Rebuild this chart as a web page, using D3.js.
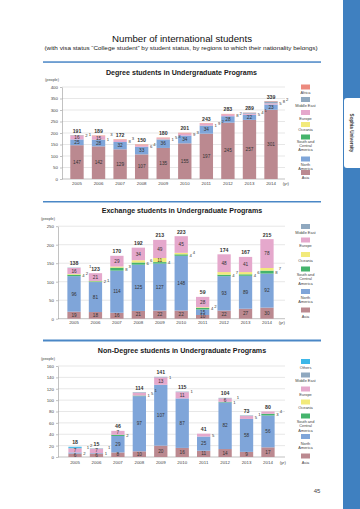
<!DOCTYPE html>
<html><head><meta charset="utf-8">
<script src="https://cdn.jsdelivr.net/npm/d3@7"></script>
<style>
body{margin:0;background:#fff;}
svg{display:block;font-family:"Liberation Sans",Arial,sans-serif;}
</style></head>
<body>
<svg id="c" width="360" height="509"></svg>
<script>
const years = ["2005","2006","2007","2008","2009","2010","2011","2012","2013","2014"];

// Degree students
const degAsia   = [147,142,129,107,135,155,197,245,257,301];
const degNA     = [25,28,32,33,36,34,34,28,22,23];
const degSCA    = [0,1,0,0,1,0,1,0,0,0];
const degOce    = [0,0,0,0,0,0,0,0,0,0];
const degEur    = [16,15,8,6,5,9,9,8,5,5];
const degME     = [2,0,0,0,0,0,0,0,4,8];
const degAfr    = [1,3,3,4,3,3,2,2,1,2];
const degTicks  = [0,50,100,150,200,250,300,350,400];

// Exchange students
const exAsia = [19,18,16,21,22,22,10,22,27,30];
const exNA   = [96,81,114,125,127,148,15,93,89,92];
const exSCA  = [4,2,8,6,4,4,4,4,4,8];
const exOce  = [2,1,3,6,11,4,2,7,6,7];
const exEur  = [16,21,29,34,49,45,28,48,41,78];
const exME   = [1,0,0,0,0,0,0,0,0,0];
const exTicks = [0,50,100,150,200,250];

// Non-degree students
const ndAsia = [6,6,8,10,20,16,11,14,9,17];
const ndNA   = [2,1,29,97,107,87,25,82,58,56];
const ndSCA  = [0,0,2,1,0,0,0,1,0,3];
const ndOce  = [0,0,0,0,0,0,0,0,0,0];
const ndEur  = [7,7,7,5,13,11,5,6,5,4];
const ndME   = [1,1,0,1,1,1,0,1,1,0];
const ndOth  = [2,0,0,0,0,0,0,0,0,0];
const ndTicks = [0,20,40,60,80,100,120,140,160];

const colors = {
  "Asia":"#bb8990","North America":"#7fa5d9","South and Central America":"#45b46c",
  "Oceania":"#f2ea7a","Europe":"#e5a8cc","Middle East":"#8fa8bf","Africa":"#ec8a7e","Others":"#3db7e8"
};

const svg = d3.select("#c");
const ink = "#333";

svg.append("rect").attr("x",343).attr("y",0).attr("width",17).attr("height",509).attr("fill","#3f80c0");
svg.append("path").attr("d","M360,98 L347,98 Q344,98 344,101 L344,165 Q344,168 347,168 L360,168 Z").attr("fill","#fff");
svg.append("text").attr("transform","translate(350,133) rotate(90)").attr("text-anchor","middle")
  .attr("font-size",4.6).attr("fill",ink).attr("font-weight","bold").text("Sophia University");

svg.append("text").attr("x",182).attr("y",42).attr("text-anchor","middle").attr("font-size",9)
  .attr("fill","#111").attr("textLength",140).attr("lengthAdjust","spacingAndGlyphs").text("Number of international students");
svg.append("text").attr("x",181).attr("y",49.5).attr("text-anchor","middle").attr("font-size",5)
  .attr("fill","#222").attr("textLength",273).attr("lengthAdjust","spacingAndGlyphs")
  .text("(with visa status \u201cCollege student\u201d by student status, by regions to which their nationality belongs)");

svg.append("text").attr("x",317).attr("y",493).attr("text-anchor","middle").attr("font-size",6).attr("fill","#444").text("45");

function drawChart(cfg){
  const g = svg.append("g");
  g.append("rect").attr("x",43).attr("y",cfg.lineY).attr("width",278).attr("height",cfg.lineH).attr("fill","#4a87c6");
  g.append("text").attr("x",cfg.titleX).attr("y",cfg.titleY).attr("text-anchor","middle").attr("font-size",8)
    .attr("font-weight","bold").attr("fill","#1a1a1a").attr("textLength",cfg.titleW).attr("lengthAdjust","spacingAndGlyphs").text(cfg.title);

  const x = d3.scaleBand().domain(years).range(cfg.xr).paddingInner(0.38).paddingOuter(0.19);
  const y = d3.scaleLinear().domain([0,cfg.max]).range(cfg.yr);

  g.append("g").selectAll("line").data(cfg.ticks.filter(t=>t>0)).join("line")
    .attr("x1",cfg.axisX).attr("x2",285).attr("y1",d=>y(d)).attr("y2",d=>y(d))
    .attr("stroke","#d6d6d6").attr("stroke-width",0.6);

  const ax = g.append("g").attr("transform",`translate(${cfg.axisX},0)`)
    .call(d3.axisLeft(y).tickValues(cfg.ticks).tickSizeInner(2).tickSizeOuter(0).tickPadding(2));
  ax.select(".domain").attr("stroke","#999").attr("stroke-width",0.6);
  ax.selectAll(".tick line").attr("stroke","#999").attr("stroke-width",0.6);
  ax.selectAll("text").attr("font-size",4.4).attr("fill","#444").attr("font-family","Liberation Sans, Arial, sans-serif");

  g.append("line").attr("x1",cfg.axisX).attr("x2",285).attr("y1",y(0)).attr("y2",y(0)).attr("stroke","#999").attr("stroke-width",0.6);

  g.append("text").attr("x",cfg.axisX-10).attr("y",cfg.yr[1]-6).attr("text-anchor","middle").attr("font-size",3.8).attr("fill","#444").text("(people)");

  const keys = cfg.series.map(s=>s.name);
  const rows = years.map((yr,i)=>{const o={year:yr}; cfg.series.forEach(s=>o[s.name]=s.values[i]); return o;});
  const stack = d3.stack().keys(keys)(rows);

  const bars = g.append("g");
  stack.forEach(layer=>{
    bars.append("g").attr("fill",colors[layer.key]).selectAll("rect").data(layer).join("rect")
      .attr("x",d=>x(d.data.year)).attr("width",x.bandwidth())
      .attr("y",d=>y(d[1])).attr("height",d=>Math.max(0,y(d[0])-y(d[1])));
  });

  const lab = g.append("g").attr("font-size",4.7).attr("fill",ink).attr("text-anchor","middle");
  years.forEach((yr,i)=>{
    const cx = x(yr)+x.bandwidth()/2;
    const rx = x(yr)+x.bandwidth()+1.6;
    let k=0, prevBase=1e9;
    stack.forEach(layer=>{
      const d = layer[i]; const v = d[1]-d[0];
      if(v<=0) return;
      const my = (y(d[0])+y(d[1]))/2;
      const h = y(d[0])-y(d[1]);
      if(v>=10 || h>=3.3){
        let base = Math.min(my+1.6, prevBase-4.4);
        lab.append("text").attr("x",cx).attr("y",base).text(v);
        prevBase = base;
      } else {
        lab.append("text").attr("x",rx+k*3.4).attr("y",my+1.5-k*0.9).attr("font-size",4.2).attr("text-anchor","start").text(v);
        k++;
      }
    });
    const tot = d3.sum(cfg.series,s=>s.values[i]);
    lab.append("text").attr("x",cx).attr("y",Math.min(y(tot)-2.5, prevBase-4.6)).attr("font-size",5.2).attr("font-weight","bold").text(tot);
  });

  g.append("g").selectAll("text").data(years).join("text")
    .attr("x",d=>x(d)+x.bandwidth()/2).attr("y",cfg.yearY).attr("text-anchor","middle").attr("font-size",4.4).attr("fill","#444").text(d=>d);
  g.append("text").attr("x",x(years[9])+x.bandwidth()+5).attr("y",cfg.yearY).attr("font-size",4.2).attr("fill","#444").text("(yr)");

  const lg = g.append("g").attr("text-anchor","middle").attr("font-size",3.9).attr("fill","#444");
  cfg.legend.forEach(it=>{
    lg.append("rect").attr("x",301).attr("y",it.y-2.5).attr("width",9).attr("height",5).attr("fill",colors[it.name]);
    it.lines.forEach((t,j)=>{
      lg.append("text").attr("x",305.5).attr("y",it.ly+j*4.3).text(t);
    });
  });
}

drawChart({
  title:"Degree students in Undergraduate Programs", titleX:181.5, titleY:74.8, titleW:151,
  lineY:61.3, lineH:1.5,
  xr:[66.2,281.8], yr:[179,87], max:400, ticks:degTicks, axisX:62, yearY:184.5,
  series:[{name:"Asia",values:degAsia},{name:"North America",values:degNA},{name:"South and Central America",values:degSCA},
          {name:"Oceania",values:degOce},{name:"Europe",values:degEur},{name:"Middle East",values:degME},{name:"Africa",values:degAfr}],
  legend:[{name:"Africa",y:87,ly:94,lines:["Africa"]},
          {name:"Middle East",y:99.5,ly:106.5,lines:["Middle East"]},
          {name:"Europe",y:112.5,ly:120,lines:["Europe"]},
          {name:"Oceania",y:124.5,ly:131,lines:["Oceania"]},
          {name:"South and Central America",y:137,ly:142.5,lines:["South and","Central","America"]},
          {name:"North America",y:159,ly:165.5,lines:["North","America"]},
          {name:"Asia",y:172.5,ly:179,lines:["Asia"]}]
});

drawChart({
  title:"Exchange students in Undergraduate Programs", titleX:182, titleY:212.8, titleW:160.6,
  lineY:201, lineH:1.5,
  xr:[63.3,277.7], yr:[318.7,226.2], max:250, ticks:exTicks, axisX:58, yearY:323.5,
  series:[{name:"Asia",values:exAsia},{name:"North America",values:exNA},{name:"South and Central America",values:exSCA},
          {name:"Oceania",values:exOce},{name:"Europe",values:exEur},{name:"Middle East",values:exME}],
  legend:[{name:"Middle East",y:226.5,ly:234,lines:["Middle East"]},
          {name:"Europe",y:240,ly:247,lines:["Europe"]},
          {name:"Oceania",y:254.5,ly:262,lines:["Oceania"]},
          {name:"South and Central America",y:269,ly:276,lines:["South and","Central","America"]},
          {name:"North America",y:291.5,ly:298.5,lines:["North","America"]},
          {name:"Asia",y:310,ly:318,lines:["Asia"]}]
});

drawChart({
  title:"Non-Degree students in Undergraduate Programs", titleX:182, titleY:353.3, titleW:168.3,
  lineY:339.5, lineH:2,
  xr:[64.3,278.7], yr:[457,366], max:160, ticks:ndTicks, axisX:58, yearY:463.5,
  series:[{name:"Asia",values:ndAsia},{name:"North America",values:ndNA},{name:"South and Central America",values:ndSCA},
          {name:"Oceania",values:ndOce},{name:"Europe",values:ndEur},{name:"Middle East",values:ndME},{name:"Others",values:ndOth}],
  legend:[{name:"Others",y:361.5,ly:368.5,lines:["Others"]},
          {name:"Middle East",y:375,ly:382,lines:["Middle East"]},
          {name:"Europe",y:389,ly:396,lines:["Europe"]},
          {name:"Oceania",y:402,ly:409,lines:["Oceania"]},
          {name:"South and Central America",y:416,ly:423,lines:["South and","Central","America"]},
          {name:"North America",y:436.5,ly:444.5,lines:["North","America"]},
          {name:"Asia",y:456,ly:463.5,lines:["Asia"]}]
});
</script>
</body></html>
